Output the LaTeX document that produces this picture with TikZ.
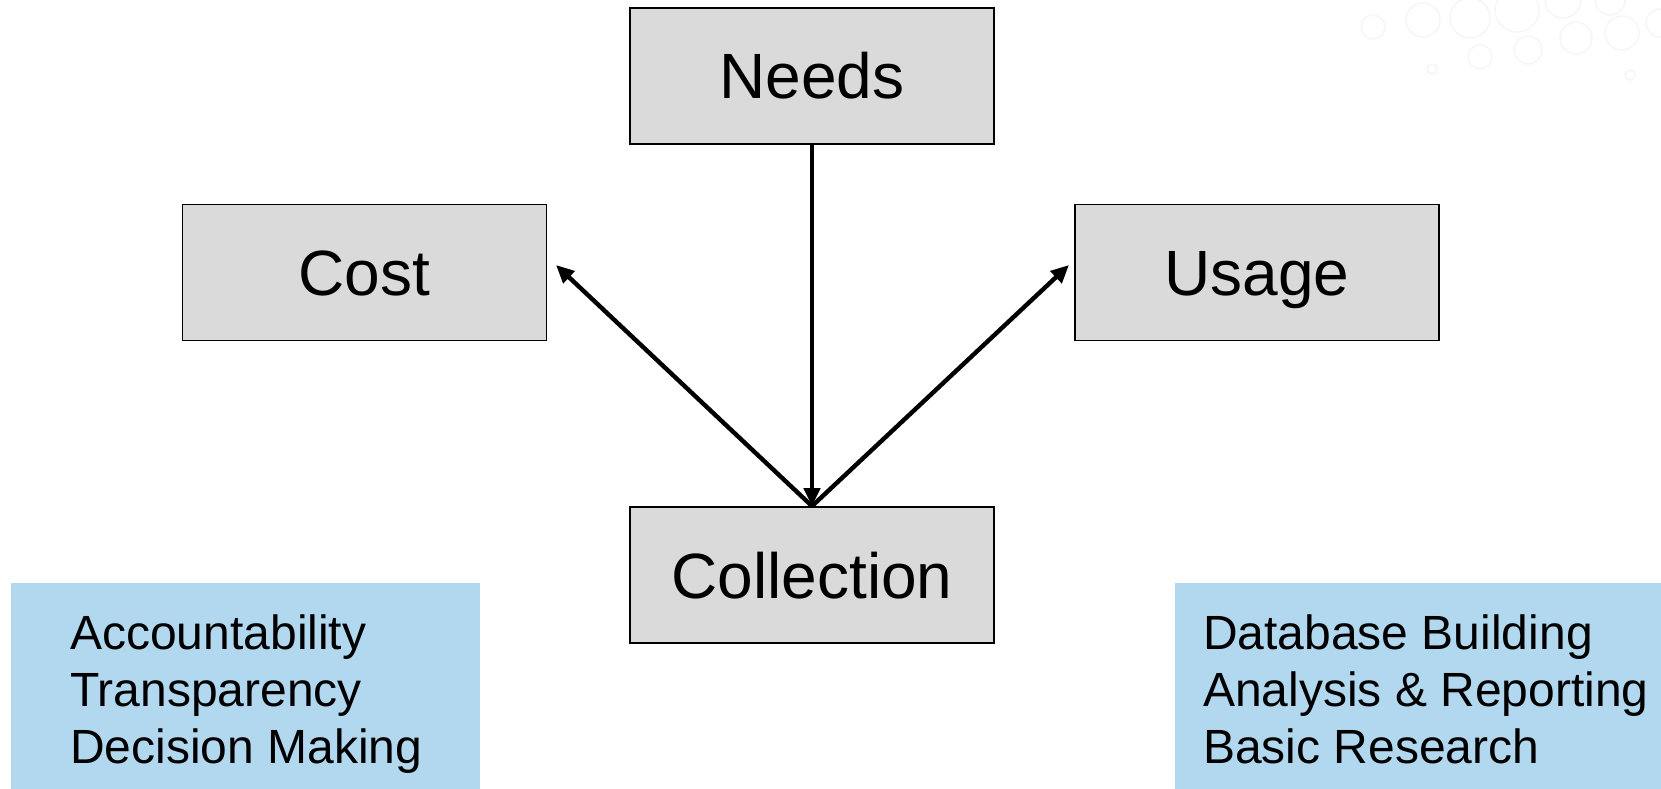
\documentclass[tikz,border=0pt]{standalone}
\usepackage{fontspec}
\setmainfont{Liberation Sans}
\usetikzlibrary{arrows.meta}
\definecolor{boxgray}{HTML}{DADADA}
\definecolor{boxblue}{HTML}{B1D8EE}
\definecolor{faint}{HTML}{F6F6F6}
\begin{document}
\begin{tikzpicture}[x=1pt,y=-1pt,
  graybox/.style={draw=black, line width=1.8pt, fill=boxgray, minimum width=364pt, minimum height=136pt, inner sep=0pt, text height=46pt, text depth=0pt, font=\fontsize{64}{77}\selectfont},
  listtext/.style={align=left, anchor=north west, inner sep=0pt, font=\fontsize{48}{57}\selectfont},
  conn/.style={line width=4.4pt, -{Triangle[length=18pt,width=16pt]}},
  bubble/.style={draw=faint, line width=1.5pt}]
\useasboundingbox (0,0) rectangle (1661,789);
\fill[white] (0,0) rectangle (1661,789);
% faint decorative bubbles
\foreach \cx/\cy/\r in {1373/27/12, 1423/20/17, 1470/18/20, 1517/10/22, 1563/0/18, 1610/0/15, 1660/23/14, 1480/57/12, 1528/50/14, 1576/38/16, 1622/33/17, 1432/69/5, 1630/75/5}
  \draw[bubble] (\cx,\cy) circle (\r);
% blue boxes
\fill[boxblue] (11,583) rectangle (480,789);
\fill[boxblue] (1175,583) rectangle (1661,789);
\node[listtext] (lefttext) at (70,615) {Accountability\\Transparency\\Decision Making};
\node[listtext] (righttext) at (1203,615) {Database Building\\Analysis \& Reporting\\Basic Research};
% gray boxes
\node[graybox] (needs) at (812,76) {Needs};
\node[graybox] (cost) at (364.5,272.5) {Cost};
\node[graybox] (usage) at (1257,272.5) {Usage};
\node[graybox] (coll) at (812,575) {Collection};
\coordinate (costtip) at (556,265);
\coordinate (usagetip) at (1069,265);
\draw[conn] (needs.south) -- (coll.north);
\draw[conn] (coll.north) -- (costtip);
\draw[conn] (coll.north) -- (usagetip);
\end{tikzpicture}
\end{document}
